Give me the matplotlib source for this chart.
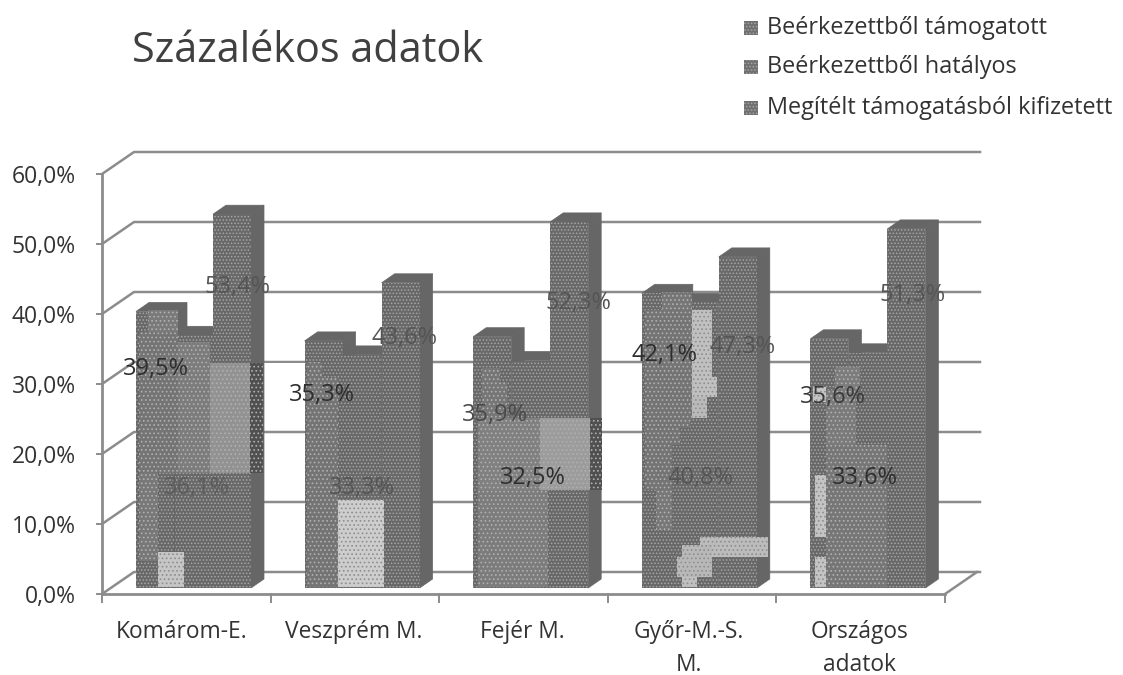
"""Scanned 3D-look column chart: Százalékos adatok."""
import matplotlib
matplotlib.use("Agg")
import matplotlib.pyplot as plt
from matplotlib.patches import Polygon, Rectangle

plt.rcParams["font.family"] = ["Open Sans", "DejaVu Sans"]
plt.rcParams["hatch.linewidth"] = 0.7

# ── Data ─────────────────────────────────────────────────────────────────────
categories = ["Komárom-E.", "Veszprém M.", "Fejér M.", "Győr-M.-S.\nM.", "Országos\nadatok"]
series_names = ["Beérkezettből támogatott", "Beérkezettből hatályos",
                "Megítélt támogatásból kifizetett"]
tamogatott = [39.5, 35.3, 35.9, 42.1, 35.6]
hatalyos = [36.1, 33.3, 32.5, 40.8, 33.6]
kifizetett = [53.4, 43.6, 52.3, 47.3, 51.3]
y_ticks = [0, 10, 20, 30, 40, 50, 60]

# ── Pixel layout of the page ─────────────────────────────────────────────────
W, H = 1123, 675
X0, Y0 = 102, 594      # front corner of the floor
CAT_W = 168.6
PX_PER_PCT = 7.0
DEPTH_X, DEPTH_Y = 32, 22
BAR_W = 38
BAR_DX, BAR_DY = 13, 9
BAR_BASE = 6           # bars stand this many px above the front floor edge
DARK = "#666666"
GRID = "#8c8c8c"
TEXT = "#333333"

# label centres (px) in series order, for each category
label_xy = [
    [(156, 369), (197, 488), (238, 287)],
    [(322, 395), (362, 488), (404, 338)],
    [(495, 415), (533, 478), (578, 303)],
    [(664, 355), (700, 478), (743, 347)],
    [(833, 397), (865, 478), (913, 295)],
]
label_col = [
    ["#2e2e2e", "#5c5c5c", "#555555"],
    ["#2e2e2e", "#555555", "#555555"],
    ["#4a4a4a", "#2e2e2e", "#555555"],
    ["#2e2e2e", "#555555", "#555555"],
    ["#3a3a3a", "#2e2e2e", "#555555"],
]
cat_label_x = [182, 354, 522, 689, 859]

# scan damage: lighter / mottled blocks over the bars (x0, y0, x1, y1, colour)
blocks = [
    (148, 310, 178, 332, "#7a7a7a"), (139, 332, 178, 473, "#747474"),
    (139, 473, 158, 561, "#787878"), (178, 342, 210, 473, "#7c7c7c"),
    (210, 363, 250, 473, "#929292"), (250, 363, 263, 473, "#505050"),
    (158, 552, 184, 587, "#c6c6c6"),
    (307, 362, 322, 378, "#747474"), (307, 378, 338, 587, "#747474"),
    (338, 500, 384, 587, "#cdcdcd"),
    (482, 368, 500, 382, "#767676"), (482, 382, 507, 418, "#767676"),
    (478, 418, 540, 490, "#808080"), (540, 418, 590, 490, "#9c9c9c"),
    (590, 418, 602, 490, "#505050"), (478, 490, 548, 587, "#7c7c7c"),
    (662, 292, 692, 310, "#767676"), (645, 310, 692, 420, "#747474"),
    (645, 420, 690, 428, "#747474"), (645, 428, 680, 445, "#747474"),
    (645, 445, 672, 490, "#747474"), (656, 490, 672, 530, "#787878"),
    (692, 310, 712, 377, "#c0c0c0"), (692, 377, 717, 397, "#c0c0c0"),
    (692, 397, 707, 418, "#bababa"),
    (700, 537, 768, 557, "#bcbcbc"), (682, 545, 712, 557, "#b8b8b8"),
    (677, 557, 712, 577, "#b8b8b8"), (682, 577, 697, 587, "#c0c0c0"),
    (835, 367, 860, 390, "#7c7c7c"), (826, 390, 856, 445, "#7a7a7a"),
    (826, 445, 887, 587, "#767676"), (815, 475, 826, 537, "#c4c4c4"),
    (815, 557, 826, 587, "#c4c4c4"), (813, 387, 826, 402, "#c4c4c4"),
]
gap_white = [(263, 363, 305, 428)]


def px(x, y):
    return (x, H - y)


def pct_y(v):
    return Y0 - PX_PER_PCT * v


fig = plt.figure(figsize=(W / 100, H / 100), dpi=100)
ax = fig.add_axes([0, 0, 1, 1])
ax.set_xlim(0, W)
ax.set_ylim(0, H)
ax.axis("off")

# ── Walls and floor ──────────────────────────────────────────────────────────
x_right = X0 + CAT_W * len(categories)
for v in y_ticks:
    y = pct_y(v)
    ax.plot(*zip(px(X0, y), px(X0 + DEPTH_X, y - DEPTH_Y), px(x_right + DEPTH_X + 3, y - DEPTH_Y)),
            color=GRID, lw=1.8, zorder=1)
    ax.plot(*zip(px(X0 - 5, y), px(X0, y)), color=GRID, lw=1.4, zorder=1)
    ax.text(*px(76, y + 3.5), f"{v:.1f}%".replace(".", ","), ha="right", va="center",
            fontsize=16.5, color=TEXT)
ax.plot(*zip(px(X0, pct_y(0)), px(X0, pct_y(60))), color=GRID, lw=2, zorder=1)
ax.plot(*zip(px(X0, Y0), px(x_right, Y0)), color=GRID, lw=2, zorder=1)
ax.plot(*zip(px(x_right, Y0), px(x_right + DEPTH_X, Y0 - DEPTH_Y)), color=GRID, lw=1.8, zorder=1)
for i in range(len(categories) + 1):
    xt = X0 + CAT_W * i
    ax.plot(*zip(px(xt, Y0), px(xt, Y0 + 8)), color=GRID, lw=1.4, zorder=1)

for x0, y0, x1, y1 in gap_white:
    ax.add_patch(Rectangle(px(x0, y1), x1 - x0, y1 - y0, fc="white", ec="none", zorder=1.5))

# ── Bars ─────────────────────────────────────────────────────────────────────
all_series = [tamogatott, hatalyos, kifizetett]
for s, values in enumerate(all_series):
    for i, v in enumerate(values):
        left = X0 + CAT_W * i + 34 + (BAR_W + 0.5) * s
        base = Y0 - BAR_BASE
        top = base - PX_PER_PCT * v
        right = left + BAR_W
        z = 3 + s
        ax.add_patch(Polygon([px(left, top), px(left + BAR_DX, top - BAR_DY),
                              px(right + BAR_DX, top - BAR_DY), px(right, top)],
                             fc=DARK, ec=DARK, lw=0.5, zorder=z))
        ax.add_patch(Polygon([px(right, top), px(right + BAR_DX, top - BAR_DY),
                              px(right + BAR_DX, base - BAR_DY), px(right, base)],
                             fc=DARK, ec=DARK, lw=0.5, zorder=z))
        ax.add_patch(Rectangle(px(left, base), BAR_W, base - top, fc="#686868",
                               ec="#a6a6a6", hatch=".....", lw=0, zorder=z))

for x0, y0, x1, y1, c in blocks:
    speckle = "#8e8e8e" if c > "#a0a0a0" else "#b0b0b0"
    ax.add_patch(Rectangle(px(x0, y1), x1 - x0, y1 - y0, fc=c, ec=speckle, lw=0,
                           hatch="....", zorder=7))

# ── Data labels ──────────────────────────────────────────────────────────────
for i in range(len(categories)):
    for s, values in enumerate(all_series):
        lx, ly = label_xy[i][s]
        ax.text(*px(lx, ly), f"{values[i]:.1f}%".replace(".", ","), ha="center", va="center",
                fontsize=17, color=label_col[i][s], zorder=9)

# ── Category labels, title, legend ───────────────────────────────────────────
for lx, name in zip(cat_label_x, categories):
    lines = name.split("\n")
    for k, line in enumerate(lines):
        ax.text(*px(lx, 638 + 33 * k), line, ha="center", va="baseline", fontsize=16.4, color=TEXT)

ax.text(*px(132, 62), "Százalékos adatok", ha="left", va="baseline", fontsize=29.9, color="#404040")

for name, ly in zip(series_names, [28, 67, 108]):
    ax.add_patch(Rectangle(px(744, ly + 7), 14, 14, fc="#707070", ec="#a6a6a6", lw=0, hatch="....."))
    ax.text(*px(767, ly), name, ha="left", va="center", fontsize=16.9, color=TEXT)

fig.savefig("out.png", dpi=100, facecolor="white")
plt.close(fig)
